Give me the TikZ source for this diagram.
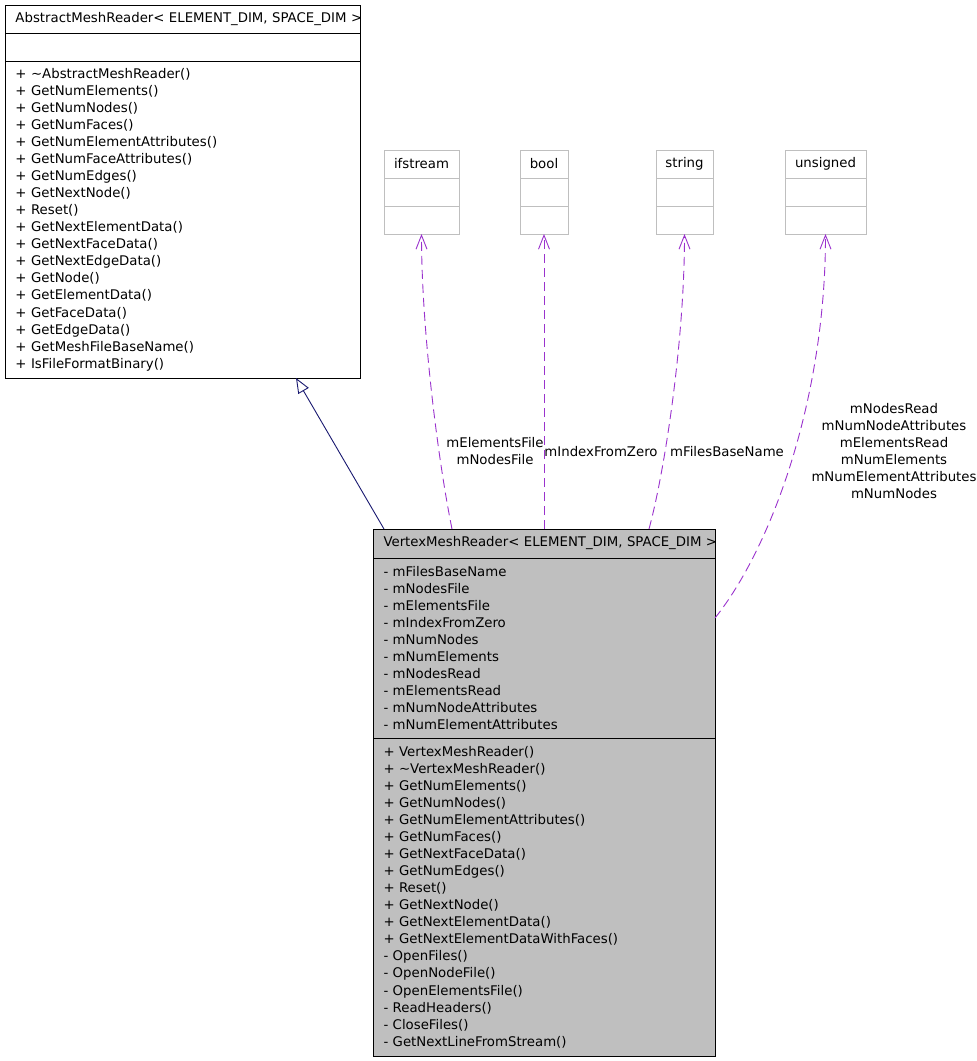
\documentclass[tikz,border=0pt]{standalone}
\usepackage{fontspec}
\setmainfont{DejaVu Sans}
\usetikzlibrary{arrows.meta,positioning}
\definecolor{orchid}{RGB}{154,50,205}
\definecolor{midnight}{RGB}{25,25,112}
\definecolor{boxgray}{RGB}{191,191,191}

\begin{document}
\begin{tikzpicture}[x=1pt,y=-1pt,
      font=\fontsize{13.3}{17.06}\selectfont,
      part/.style={draw=black,line width=1pt,outer sep=0pt,inner xsep=10.5pt,inner ysep=0pt,align=left,anchor=north west},
      tbox/.style={draw=boxgray,line width=1pt,outer sep=0pt,fill=white,minimum height=28pt,inner sep=0pt},
      lbl/.style={align=center,inner sep=0pt},
      dep/.style={-{Straight Barb[length=14pt,width=11pt]},orchid,line width=0.9pt,dash pattern=on 9pt off 5pt},
      inherit/.style={-{Triangle[open,length=15pt,width=12pt]},midnight,line width=0.9pt}
    ]
      \useasboundingbox (0,0) rectangle (977,1061);
      \node[part,text width=334pt,minimum height=28pt] (base-name) at (5,5) {\mbox{AbstractMeshReader< ELEMENT\_DIM, SPACE\_DIM >}};
      \node[part,text width=334pt,minimum height=28pt] (base-attr) at (base-name.south west) {};
      \node[part,text width=334pt,minimum height=317pt] (base-ops) at (base-attr.south west) {+ \textasciitilde AbstractMeshReader()\\+ GetNumElements()\\+ GetNumNodes()\\+ GetNumFaces()\\+ GetNumElementAttributes()\\+ GetNumFaceAttributes()\\+ GetNumEdges()\\+ GetNextNode()\\+ Reset()\\+ GetNextElementData()\\+ GetNextFaceData()\\+ GetNextEdgeData()\\+ GetNode()\\+ GetElementData()\\+ GetFaceData()\\+ GetEdgeData()\\+ GetMeshFileBaseName()\\+ IsFileFormatBinary()};

      \node[tbox,minimum width=75pt] (ifs-name) at (421.5,164) {ifstream};
      \node[tbox,minimum width=75pt,below=0pt of ifs-name] (ifs-attr) {};
      \node[tbox,minimum width=75pt,below=0pt of ifs-attr] (ifs-ops) {};
      \node[tbox,minimum width=48pt] (bool-name) at (544,164) {bool};
      \node[tbox,minimum width=48pt,below=0pt of bool-name] (bool-attr) {};
      \node[tbox,minimum width=48pt,below=0pt of bool-attr] (bool-ops) {};
      \node[tbox,minimum width=57pt] (str-name) at (684.5,164) {string};
      \node[tbox,minimum width=57pt,below=0pt of str-name] (str-attr) {};
      \node[tbox,minimum width=57pt,below=0pt of str-attr] (str-ops) {};
      \node[tbox,minimum width=81pt] (uns-name) at (825.5,164) {unsigned};
      \node[tbox,minimum width=81pt,below=0pt of uns-name] (uns-attr) {};
      \node[tbox,minimum width=81pt,below=0pt of uns-attr] (uns-ops) {};

      \node[part,fill=boxgray,text width=321pt,minimum height=29pt] (vmr-name) at (373,529) {\mbox{VertexMeshReader< ELEMENT\_DIM, SPACE\_DIM >}};
      \node[part,fill=boxgray,text width=321pt,minimum height=180pt] (vmr-attr) at (vmr-name.south west) {- mFilesBaseName\\- mNodesFile\\- mElementsFile\\- mIndexFromZero\\- mNumNodes\\- mNumElements\\- mNodesRead\\- mElementsRead\\- mNumNodeAttributes\\- mNumElementAttributes};
      \node[part,fill=boxgray,text width=321pt,minimum height=318pt] (vmr-ops) at (vmr-attr.south west) {+ VertexMeshReader()\\+ \textasciitilde VertexMeshReader()\\+ GetNumElements()\\+ GetNumNodes()\\+ GetNumElementAttributes()\\+ GetNumFaces()\\+ GetNextFaceData()\\+ GetNumEdges()\\+ Reset()\\+ GetNextNode()\\+ GetNextElementData()\\+ GetNextElementDataWithFaces()\\- OpenFiles()\\- OpenNodeFile()\\- OpenElementsFile()\\- ReadHeaders()\\- CloseFiles()\\- GetNextLineFromStream()};

      \draw[inherit] ([xshift=11pt]vmr-name.north west) -- ([xshift=291pt]base-ops.south west);
      \draw[dep] ([xshift=79pt]vmr-name.north west) .. controls +(-14,-69) and +(0,96) .. (ifs-ops.south);
      \draw[dep] ([xshift=171pt]vmr-name.north west) -- (bool-ops.south);
      \draw[dep] ([xshift=276pt]vmr-name.north west) .. controls +(16,-59) and +(0,106) .. (str-ops.south);
      \draw[dep] ([yshift=-60pt]vmr-attr.north east) .. controls +(56,-70) and +(0,166) .. (uns-ops.south);

      \node[lbl] (ifs-lbl) at (495,451) {mElementsFile\\mNodesFile};
      \node[lbl] (bool-lbl) at (601,452) {mIndexFromZero};
      \node[lbl] (str-lbl) at (727,452) {mFilesBaseName};
      \node[lbl] (uns-lbl) at (894,451) {mNodesRead\\mNumNodeAttributes\\mElementsRead\\mNumElements\\mNumElementAttributes\\mNumNodes};
    \end{tikzpicture}
\end{document}
